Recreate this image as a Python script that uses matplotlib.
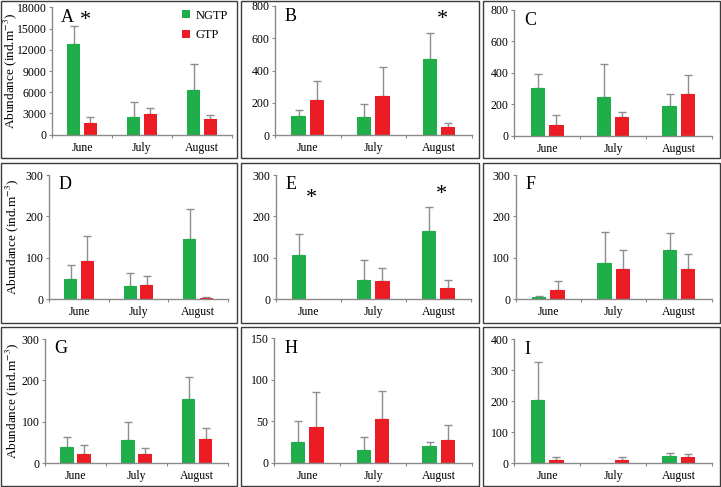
#!/usr/bin/env python3
from __future__ import annotations

import matplotlib

matplotlib.use("Agg")

import matplotlib.pyplot as plt
import numpy as np
from matplotlib.patches import Patch, Rectangle

OUT_PNG = "out.png"

MONTHS = ["June", "July", "August"]
PANELS = ["A", "B", "C", "D", "E", "F", "G", "H", "I"]
SERIES = ["NGTP", "GTP"]

# mean and standard deviation (only the upper bar is drawn), one row per panel
NGTP_MEAN = [
    [12800, 2500, 6350],
    [118, 112, 470],
    [301, 244, 187],
    [47.6, 31.4, 144],
    [106, 47, 164.5],
    [4, 87, 118],
    [39.4, 55.5, 155],
    [25, 15.7, 19.7],
    [204, 0, 23.7],
]
NGTP_SD = [
    [2600, 2070, 3630],
    [35, 83, 165],
    [92, 210, 76],
    [35.4, 30.6, 73],
    [51, 47, 57.5],
    [3, 75, 41],
    [23.3, 44.2, 54],
    [25, 15.7, 4.8],
    [124, 0, 10.7],
]
GTP_MEAN = [
    [1600, 2970, 2170],
    [215, 240, 47],
    [70, 117, 263],
    [91, 34, 2.5],
    [0, 44, 26.6],
    [21, 72, 72.5],
    [21.7, 22.5, 58],
    [42.6, 53, 27.7],
    [10.8, 10.8, 20],
]
GTP_SD = [
    [850, 750, 560],
    [118, 182, 25],
    [64, 36, 121],
    [61, 22, 3.5],
    [0, 32, 18.4],
    [22, 46, 37.5],
    [21.3, 13.5, 27],
    [43, 33.8, 17.7],
    [10.7, 10.7, 11],
]

Y_MAX = [18000, 800, 800, 300, 300, 300, 300, 150, 400]
Y_STEP = [3000, 200, 200, 100, 100, 100, 100, 50, 100]

# significance stars: (panel, month index, height)
STARS = [("A", 0, 16100), ("B", 2, 714), ("E", 0, 243), ("E", 2, 252)]

GREEN = "#1fae4a"
RED = "#ec1c24"
ERR = "#8e8e8e"
AXIS = "#8a8a8a"

W, H = 721, 487

# axes in pixels: left, top, right, bottom (zero line)
AX_PX = [
    (52, 7.3, 232, 134.7),
    (275, 6, 471.7, 135),
    (514.3, 10, 711.7, 135.7),
    (49.3, 175, 227.7, 299),
    (275.7, 175, 471, 299),
    (515.7, 175, 711.7, 299),
    (45, 339, 227.7, 463.3),
    (274.3, 338.3, 471.7, 462.7),
    (514.3, 339.3, 711.7, 463.3),
]
BOX_COLS = [(1, 237), (241, 479), (483, 720)]
BOX_ROWS = [(1, 158), (163, 323), (327, 486)]
YLABEL_X = [10, 12, 12]


def px_rect(left, top, right, bottom):
    return [left / W, 1 - bottom / H, (right - left) / W, (bottom - top) / H]


def main() -> None:
    plt.rcParams.update(
        {
            "font.family": ["Liberation Serif", "DejaVu Serif"],
            "mathtext.fontset": "stix",
            "font.size": 8.5,
            "axes.linewidth": 1.0,
        }
    )

    fig = plt.figure(figsize=(W / 100, H / 100), dpi=100)

    for top, bottom in BOX_ROWS:
        for left, right in BOX_COLS:
            fig.patches.append(
                Rectangle(
                    (left / W, 1 - bottom / H),
                    (right - left) / W,
                    (bottom - top) / H,
                    transform=fig.transFigure,
                    fill=False,
                    edgecolor="#3c3c3c",
                    linewidth=1.0,
                )
            )

    x = np.arange(len(MONTHS))
    offset = 0.14
    width = 0.22

    for i, name in enumerate(PANELS):
        ax = fig.add_axes(px_rect(*AX_PX[i]))
        for k, (means, sds, color) in enumerate(
            [(NGTP_MEAN[i], NGTP_SD[i], GREEN), (GTP_MEAN[i], GTP_SD[i], RED)]
        ):
            means = np.asarray(means, dtype=float)
            sds = np.asarray(sds, dtype=float)
            xs = x + (-offset if k == 0 else offset)
            ax.bar(xs, means, width=width, color=color, edgecolor="none", zorder=2)
            keep = means > 0
            ax.errorbar(
                xs[keep],
                means[keep],
                yerr=[np.zeros(keep.sum()), sds[keep]],
                fmt="none",
                ecolor=ERR,
                elinewidth=1.0,
                capsize=3.2,
                capthick=1.0,
                zorder=1,
            )

        ax.set_xlim(-0.5, 2.5)
        ax.set_ylim(0, Y_MAX[i])
        ax.set_yticks(np.arange(0, Y_MAX[i] + 1, Y_STEP[i]))
        ax.set_xticks([-0.5, 0.5, 1.5, 2.5])
        ax.set_xticklabels([])
        ax.set_xticks(x, minor=True)
        ax.set_xticklabels(MONTHS, minor=True)
        ax.tick_params(axis="x", which="minor", length=0, pad=5, labelsize=8.5)
        ax.tick_params(axis="x", which="major", length=2.5, color=AXIS, direction="out")
        ax.tick_params(axis="y", length=2.5, color=AXIS, direction="out", pad=1.5,
                       labelsize=8.5)
        for side in ("top", "right"):
            ax.spines[side].set_visible(False)
        for side in ("left", "bottom"):
            ax.spines[side].set_color(AXIS)
        ax.patch.set_alpha(0)

        ax.text(0.05, 0.92, name, transform=ax.transAxes, fontsize=13,
                ha="left", va="center")

        if i % 3 == 0:
            left, top, right, bottom = AX_PX[i]
            fig.text(YLABEL_X[i // 3] / W, 1 - (top + bottom) / 2 / H,
                     "Abundance (ind.m$^{-3}$)", rotation=90, fontsize=9.5,
                     ha="center", va="center")

        for panel, month, height in STARS:
            if panel == name:
                ax.text(month + 0.05, height, "*", ha="center", va="center",
                        fontsize=16)

        if name == "A":
            handles = [Patch(facecolor=GREEN), Patch(facecolor=RED)]
            ax.legend(
                handles,
                SERIES,
                loc="upper right",
                bbox_to_anchor=(1.04, 1.07),
                frameon=False,
                handlelength=0.6,
                handleheight=0.6,
                handletextpad=0.45,
                labelspacing=0.6,
                fontsize=9,
            )

    fig.savefig(OUT_PNG, dpi=100, facecolor="white")


if __name__ == "__main__":
    main()
